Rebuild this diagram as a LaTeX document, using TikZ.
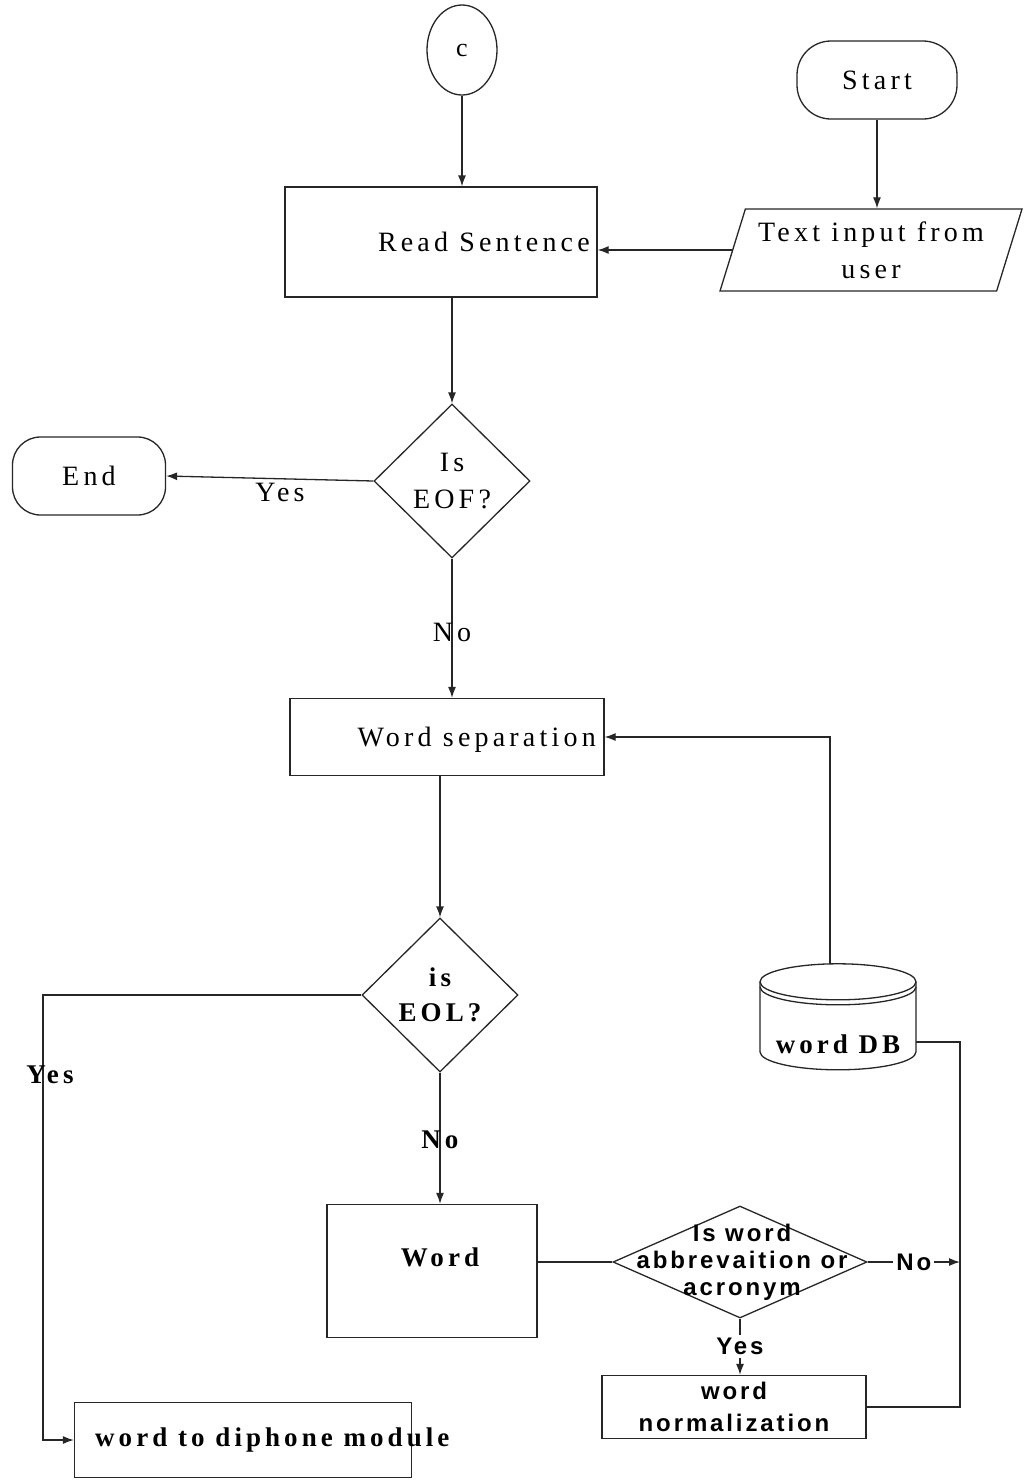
\documentclass[tikz,border=0pt]{standalone}
\usepackage{fontspec}
\setmainfont{Liberation Serif}
\newfontfamily\fserif[LetterSpace=15]{Liberation Serif}
\newfontfamily\fsans[LetterSpace=12]{Liberation Sans}
\usetikzlibrary{shapes.geometric,arrows.meta,calc}

\begin{document}
\begin{tikzpicture}[x=1pt,y=-1pt,
  ink/.style={draw=black!85, line width=1.3pt},
  arr/.style={ink, -{Latex[length=11pt,width=8pt]}},
  box/.style={ink, rectangle, inner sep=0pt},
  dia/.style={ink, diamond, inner sep=0pt, align=center},
  txt/.style={inner sep=0pt, font=\fserif\fontsize{28}{37}\selectfont},
  txtb/.style={inner sep=0pt, font=\fserif\bfseries\fontsize{27}{35}\selectfont},
  sans/.style={inner sep=0pt, font=\fsans\bfseries\fontsize{24}{27}\selectfont},
]
\useasboundingbox[fill=white] (0,0) rectangle (1025,1481);

% --- top: connector, start, input, read ---
\node[ink, ellipse, minimum width=70pt, minimum height=90pt, inner sep=0pt,
      font=\fserif\fontsize{26}{30}\selectfont] (c) at (462,50) {c};
\node[ink, rectangle, rounded corners=34pt, minimum width=160pt, minimum height=78pt,
      txt] (start) at (877,80) {Start};
\node[ink, trapezium, trapezium left angle=66, trapezium right angle=114,
      trapezium stretches body, minimum width=302pt, minimum height=82pt,
      inner sep=0pt, align=center, txt] (par) at (871,250) {Text input from\\user};
\node[box, minimum width=312pt, minimum height=110pt] (read) at (441,242) {};
\node[txt, anchor=east] (readtxt) at (590,242) {Read Sentence};

% --- end-of-file test ---
\node[dia, minimum width=156pt, minimum height=154pt, txt] (eof) at (452,481) {Is\\EOF?};
\node[ink, rectangle, rounded corners=28pt, minimum width=153pt, minimum height=78pt,
      txt] (end) at (89,476) {End};

% --- word separation ---
\node[box, minimum width=314pt, minimum height=77pt] (wsep) at (447,737) {};
\node[txt, anchor=east] (wseptxt) at (596,740) {Word separation};

% --- end-of-line test ---
\node[dia, minimum width=156pt, minimum height=154pt, txtb] (eol) at (440,995) {is\\EOL?};

% --- word box and abbreviation test ---
\node[box, minimum width=210pt, minimum height=133pt] (word) at (432,1271) {};
\node[txtb] (wordtxt) at (440,1257) {Word};
\node[dia, minimum width=254pt, minimum height=112pt] (abbr) at (740,1262) {};
\node[sans, align=center] (abbrtxt) at (742,1262) {Is word\\abbrevaition or\\acronym};
\node[box, minimum width=264pt, minimum height=63pt, align=center, sans,
      font=\fsans\bfseries\fontsize{24}{32}\selectfont] (norm) at (734,1407)
      {word\\normalization};

% --- word database cylinder ---
\node[minimum width=156pt, minimum height=108pt, inner sep=0pt] (db) at (838,1018) {};
\path (db.north) ++(0,18) coordinate (dbt);
\draw[ink, fill=white] ($(dbt)+(-78,0)$) -- ++(0,70)
   arc[start angle=180, end angle=360, x radius=78pt, y radius=18pt] -- ++(0,-70);
\draw[ink] (dbt) ellipse [x radius=78pt, y radius=18pt];
\draw[ink] ($(dbt)+(-78,5)$) arc[start angle=180, end angle=360, x radius=78pt, y radius=18pt];
\node[txtb] (dbtxt) at (838,1044) {word DB};

% --- output module ---
\node[box, minimum width=337pt, minimum height=75pt] (dip) at (243,1440) {};
\node[txtb, anchor=west] (diptxt) at (95,1440) {word to diphone module};

% --- routing points ---
\coordinate (yl) at (43,1440);
\coordinate (rv) at (960,1042);
\coordinate (dbin) at ($(db.east)+(0,24)$);

% --- connectors ---
\draw[arr] (c.south) -- (c.south |- read.north);
\draw[arr] (start.south) -- (start.south |- par.north);
\draw[arr] (par.west) -- (par.west -| read.east);
\draw[arr] (read.south -| eof) -- (eof.north);
\draw[arr] (eof.west) -- (end.east);
\node[txt] (yes1) at (280,492) {Yes};
\draw[arr] (eof.south) -- (eof.south |- wsep.north);
\node[txt] (no1) at (452,632) {No};
\draw[arr] (wsep.south -| eol) -- (eol.north);
\draw[arr] (eol.west) -| (yl) -- (dip.west);
\node[txtb] (yes2) at (50,1075) {Yes};
\draw[arr] (eol.south) -- (eol.south |- word.north);
\node[txtb] (no2) at (440,1140) {No};
\draw[ink] (abbr.west -| word.east) -- (abbr.west);
\draw[arr] (abbr.east) -- node[sans, fill=white, inner xsep=3pt] (no3) {No} (abbr.east -| rv);
\draw[arr] (abbr.south) -- node[sans, fill=white, inner ysep=3pt] (yes3) {Yes} (abbr.south |- norm.north);
\draw[ink] (norm.east) -| (rv) -- (dbin);
\draw[arr] ($(db.north)+(-8,0)$) |- (wsep.east);
\end{tikzpicture}
\end{document}
